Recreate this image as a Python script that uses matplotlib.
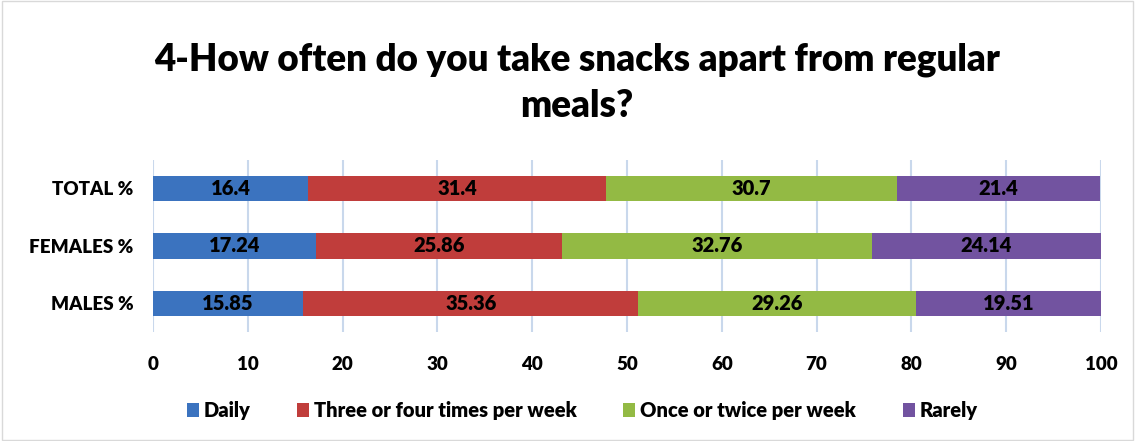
import matplotlib.pyplot as plt
import numpy as np

plt.rcParams['font.family'] = ['Lato', 'DejaVu Sans']

# data
groups = ['TOTAL %', 'FEMALES %', 'MALES %']
daily = [16.4, 17.24, 15.85]
three_four = [31.4, 25.86, 35.36]
once_twice = [30.7, 32.76, 29.26]
rarely = [21.4, 24.14, 19.51]
series_names = ['Daily', 'Three or four times per week', 'Once or twice per week', 'Rarely']
colors = ['#3b73bf', '#c03d3b', '#93ba44', '#7253a0']

W = 'heavy'

fig = plt.figure(figsize=(11.35, 4.41), dpi=100)
ax = fig.add_axes([0.1348, 0.247, 0.8352, 0.391])

y = np.arange(len(groups))[::-1]  # TOTAL at top
left = np.zeros(len(groups))
for name, vals, c in zip(series_names, [daily, three_four, once_twice, rarely], colors):
    vals = np.array(vals)
    ax.barh(y, vals, left=left, height=0.44, color=c, label=name, zorder=3)
    for yi, l, v in zip(y, left, vals):
        ax.text(l + v / 2, yi, f'{v:g}', ha='center', va='center',
                fontsize=14.5, fontweight=W, color='black', zorder=4)
    left += vals

ax.set_xlim(0, 100)
ax.set_ylim(-0.5, 2.5)
ax.set_xticks(np.arange(0, 101, 10))
ax.set_yticks(y)
ax.set_yticklabels(groups)
ax.tick_params(axis='both', length=0, labelsize=13.5)
ax.tick_params(axis='x', pad=17)
ax.tick_params(axis='y', pad=14)
for lab in ax.get_xticklabels() + ax.get_yticklabels():
    lab.set_fontweight(W)
ax.grid(True, axis='x', color='#c9d8ec', linewidth=1.5, zorder=0)
for s in ax.spines.values():
    s.set_visible(False)

fig.text(0.508, 0.812, '4-How often do you take snacks apart from regular\nmeals?',
         ha='center', va='center', fontsize=26.5, fontweight=W,
         linespacing=1.42)

leg = fig.legend(loc='center', bbox_to_anchor=(0.513, 0.07), ncol=4, frameon=False,
                 prop={'size': 14.5, 'weight': W}, handlelength=0.6,
                 handleheight=0.7, handletextpad=0.25, columnspacing=2.3)

# chart border
fig.patches.append(plt.Rectangle((0.002, 0.003), 0.996, 0.994, transform=fig.transFigure,
                                 fill=False, edgecolor='#d9d9d9', linewidth=1))

fig.savefig('out.png', dpi=100)
